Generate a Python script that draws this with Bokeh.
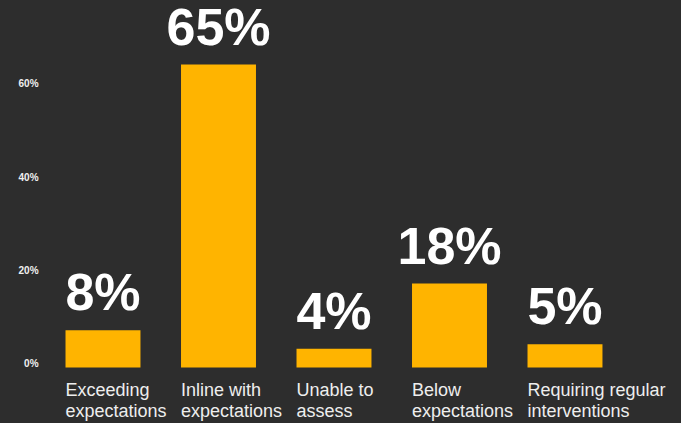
from bokeh.plotting import figure
from bokeh.models import Range1d, ColumnDataSource
from bokeh.core.properties import value
from bokeh.embed import file_html
from bokeh.resources import INLINE

categories = ["Exceeding\nexpectations", "Inline with\nexpectations", "Unable to\nassess",
              "Below\nexpectations", "Requiring regular\ninterventions"]
values = [8, 65, 4, 18, 5]
value_labels = ["8%", "65%", "4%", "18%", "5%"]
y_ticks = [0, 20, 40, 60]
y_tick_labels = ["0%", "20%", "40%", "60%"]

BG = "#2d2d2d"
BAR = "#ffb400"
FONT = "Liberation Sans"

xs = list(range(len(categories)))
line1 = [c.split("\n")[0] for c in categories]
line2 = [c.split("\n")[1] for c in categories]

src = ColumnDataSource(dict(x=xs, top=values, lab=value_labels, l1=line1, l2=line2,
                            xl=[x - 0.325 for x in xs], zero=[0] * len(xs)))
tick_src = ColumnDataSource(dict(y=y_ticks, t=y_tick_labels, x=[-0.558] * len(y_ticks)))

p = figure(width=681, height=423, output_backend="svg", toolbar_location=None,
           x_range=Range1d(-0.8874, 5.0087), y_range=Range1d(-12.02, 78.76),
           min_border_left=0, min_border_right=0, min_border_top=0, min_border_bottom=0,
           background_fill_color=None, border_fill_color=BG, outline_line_color=None)
p.grid.visible = False
p.axis.visible = False
p.outline_line_alpha = 0
p.outline_line_width = 0

p.vbar(x="x", top="top", bottom=0, width=0.649, source=src, fill_color=BAR, line_color=None)

# y tick labels
p.text(x="x", y="y", text="t", source=tick_src, text_align="right", text_baseline="middle",
       y_offset=-4, text_font=value(FONT), text_font_style="bold", text_font_size="10px",
       text_color="#f0f0f0")

# value labels
p.text(x="x", y="top", text="lab", source=src, text_align="center", text_baseline="alphabetic",
       y_offset=-38, text_font=value(FONT), text_font_style="bold", text_font_size="52px",
       text_color="#ffffff")

# category labels
p.text(x="xl", y="zero", text="l1", source=src, text_align="left", text_baseline="alphabetic",
       y_offset=23, text_font=value(FONT), text_font_size="18px", text_color="#eeeeee")
p.text(x="xl", y="zero", text="l2", source=src, text_align="left", text_baseline="alphabetic",
       y_offset=43.5, text_font=value(FONT), text_font_size="18px", text_color="#eeeeee")

template = """{% block postamble %}<style>html, body { background: #2d2d2d; }</style>{% endblock %}"""

open("out.html", "w").write(file_html(p, INLINE, template=template))
